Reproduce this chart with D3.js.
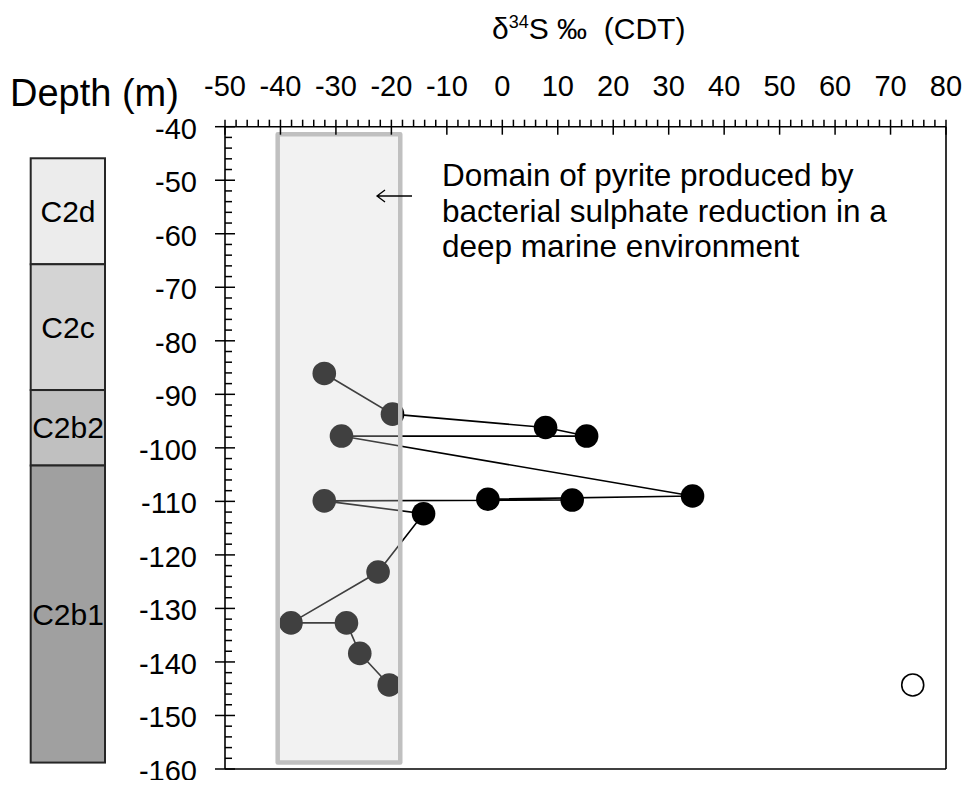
<!DOCTYPE html>
<html><head><meta charset="utf-8">
<script src="https://cdn.jsdelivr.net/npm/d3@7"></script>
<style>
body{margin:0;background:#fff;}
text{font-family:"Liberation Sans",Arial,sans-serif;fill:#000;}
</style>
</head><body>
<svg id="c" width="966" height="787"></svg>
<script>
// ---------- data ----------
const xTickValues = [-50,-40,-30,-20,-10,0,10,20,30,40,50,60,70,80];
const yTickValues = [-40,-50,-60,-70,-80,-90,-100,-110,-120,-130,-140,-150,-160];
// samples in plotting (connection) order
const sampleDelta = [-32.1,-19.8,7.8,15.2,-29.0,34.3,-2.6,12.6,-32.1,-14.2,-22.4,-38.1,-28.1,-25.7,-20.4];
const sampleDepth = [-86.1,-93.7,-96.2,-97.8,-97.8,-109.0,-109.6,-109.75,-109.9,-112.3,-123.2,-132.7,-132.7,-138.4,-144.3];
const openDelta = [74.0];
const openDepth = [-144.3];
const unitNames = ["C2d","C2c","C2b2","C2b1"];
const unitTop = [-45.9,-65.7,-89.2,-103.3];
const unitBase = [-65.7,-89.2,-103.3,-158.8];
const domainDelta = [-40.5,-18.4];
const domainDepth = [-41.4,-158.8];
const noteLines = ["Domain of pyrite produced by","bacterial sulphate reduction in a","deep marine environment"];
const xTitle = "(CDT)";
const yTitle = "Depth (m)";

// ---------- drawing ----------
const svg = d3.select("#c");
const x = d3.scaleLinear().domain([-50,80]).range([225,946]);
const y = d3.scaleLinear().domain([-40,-160]).range([126.7,769]);
const unitFill = ["#ececec","#d4d4d4","#c0c0c0","#a0a0a0"];

// stratigraphic column
const col = svg.append("g");
unitNames.forEach((n,i)=>{
  col.append("rect").attr("x",30.7).attr("width",74.3)
    .attr("y",y(unitTop[i])).attr("height",y(unitBase[i])-y(unitTop[i]))
    .attr("fill",unitFill[i]).attr("stroke","#262626").attr("stroke-width",2);
  col.append("text").attr("x",68).attr("y",(y(unitTop[i])+y(unitBase[i]))/2+10.5)
    .attr("text-anchor","middle").attr("font-size",30).text(n);
});

// data line + markers
const pts = sampleDelta.map((d,i)=>[x(d),y(sampleDepth[i])]);
svg.append("path").attr("d",d3.line()(pts)).attr("fill","none")
  .attr("stroke","#000").attr("stroke-width",1.6);
svg.append("g").selectAll("circle").data(pts).join("circle")
  .attr("cx",d=>d[0]).attr("cy",d=>d[1]).attr("r",11.8).attr("fill","#000");
svg.append("g").selectAll("circle").data(openDelta).join("circle")
  .attr("cx",d=>x(d)).attr("cy",(d,i)=>y(openDepth[i])).attr("r",11)
  .attr("fill","#fff").attr("stroke","#000").attr("stroke-width",1.6);

// domain overlay
svg.append("rect")
  .attr("x",x(domainDelta[0])).attr("width",x(domainDelta[1])-x(domainDelta[0]))
  .attr("y",y(domainDepth[0])).attr("height",y(domainDepth[1])-y(domainDepth[0]))
  .attr("fill","#d4d4d4").attr("fill-opacity",0.3)
  .attr("stroke","#c0c0c0").attr("stroke-width",4.5).attr("stroke-linejoin","round");

// frame
const fr = svg.append("g").attr("stroke","#000").attr("stroke-width",1.6);
fr.append("line").attr("x1",x(-50)).attr("x2",x(80)).attr("y1",y(-40)).attr("y2",y(-40));
fr.append("line").attr("x1",x(-50)).attr("x2",x(80)).attr("y1",y(-160)).attr("y2",y(-160));
fr.append("line").attr("x1",x(-50)).attr("x2",x(-50)).attr("y1",y(-40)).attr("y2",y(-160));
fr.append("line").attr("x1",x(80)).attr("x2",x(80)).attr("y1",y(-40)).attr("y2",y(-160));

// ticks
const xMinor = d3.range(-50,80.001,2).filter(v=>v%10!==0);
const yMinor = d3.range(-40,-160.001,-2).filter(v=>v%10!==0);
const tk = svg.append("g").attr("stroke","#000").attr("stroke-width",1.5);
tk.selectAll(".xm").data(xTickValues).join("line")
  .attr("x1",d=>x(d)).attr("x2",d=>x(d)).attr("y1",y(-40)-7).attr("y2",y(-40)+8);
tk.selectAll(".xn").data(xMinor).join("line")
  .attr("x1",d=>x(d)).attr("x2",d=>x(d)).attr("y1",y(-40)-7).attr("y2",y(-40));
tk.selectAll(".ym").data(yTickValues).join("line")
  .attr("y1",d=>y(d)).attr("y2",d=>y(d)).attr("x1",x(-50)-10).attr("x2",x(-50)+10);
tk.selectAll(".yn").data(yMinor).join("line")
  .attr("y1",d=>y(d)).attr("y2",d=>y(d)).attr("x1",x(-50)).attr("x2",x(-50)+7);

// tick labels
svg.append("g").selectAll("text").data(xTickValues).join("text")
  .attr("x",d=>x(d)).attr("y",96).attr("text-anchor","middle").attr("font-size",29)
  .text(d=>d);
svg.append("clipPath").attr("id","yclip").append("rect")
  .attr("x",0).attr("y",0).attr("width",966).attr("height",780);
svg.append("g").attr("clip-path","url(#yclip)").selectAll("text").data(yTickValues).join("text")
  .attr("x",197).attr("y",d=>y(d)+12).attr("text-anchor","end").attr("font-size",29)
  .text(d=>d);

// axis titles
svg.append("text").attr("x",10).attr("y",106).attr("font-size",38).text(yTitle);
const t = svg.append("text").attr("x",492).attr("y",39).attr("font-size",30);
t.append("tspan").text("δ");
t.append("tspan").attr("font-size",18).attr("dy",-11).text("34");
t.append("tspan").attr("dy",11).text("S ‰\u00a0\u00a0" + xTitle);

// annotation
const note = svg.append("text").attr("font-size",31.5);
noteLines.forEach((l,i)=>note.append("tspan").attr("x",442).attr("y",186+i*35.5).text(l));
svg.append("path").attr("d","M412,196 L377,196 M385,190 L377,196 L385,202")
  .attr("fill","none").attr("stroke","#000").attr("stroke-width",1.3);
</script>
</body></html>
